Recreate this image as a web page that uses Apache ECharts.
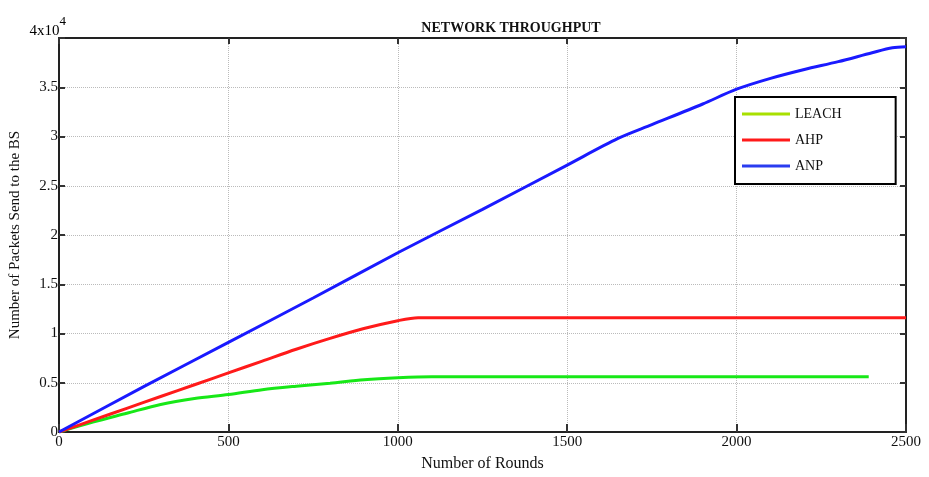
<!DOCTYPE html>
<html>
<head>
<meta charset="utf-8">
<script src="https://cdn.jsdelivr.net/npm/echarts@6/dist/echarts.min.js"></script>
<style>
  html, body { margin: 0; padding: 0; background: #fff; }
  #chart { width: 929px; height: 477px; }
</style>
</head>
<body>
<div id="chart"></div>
<script>
// values (packets, axis shows them x1e4)
const leachRounds = [0, 100, 200, 300, 400, 500, 600, 700, 800, 900, 1000, 1100, 2390]
const leachValues = [0, 1000, 1900, 2800, 3400, 3800, 4300, 4650, 4950, 5300, 5500, 5600, 5600]

const ahpRounds = [0, 100, 200, 300, 400, 500, 600, 700, 800, 900, 1000, 1060, 2500]
const ahpValues = [0, 1200, 2400, 3600, 4800, 6000, 7200, 8400, 9500, 10500, 11300, 11600, 11600]

const anpRounds = [0, 250, 500, 750, 1000, 1250, 1500, 1650, 1750, 1900, 2000, 2100, 2200, 2300, 2400, 2460, 2500]
const anpValues = [0, 4600, 9100, 13600, 18200, 22600, 27100, 29800, 31200, 33300, 34800, 35900, 36800, 37600, 38500, 39000, 39100]

const xTicks = [0, 500, 1000, 1500, 2000, 2500]
const yTickLabels = ['0', '0.5', '1', '1.5', '2', '2.5', '3', '3.5', '']

const pairs = (xs, ys) => xs.map((x, i) => [x, ys[i]])

const chart = echarts.init(document.getElementById('chart'))
const serif = '"Liberation Serif", "DejaVu Serif", serif'

const frameAxis = {
  type: 'value',
  axisLine: { show: true, onZero: false, lineStyle: { color: '#222', width: 2 } },
  axisTick: { show: true, inside: true, length: 6, lineStyle: { color: '#333', width: 2 } },
  axisLabel: { show: false },
  splitLine: { show: false },
}

chart.setOption({
  animation: false,
  title: {
    text: 'NETWORK THROUGHPUT',
    left: 506,
    top: 16,
    textAlign: 'center',
    textStyle: { fontFamily: serif, fontSize: 14, fontWeight: 'bold', color: '#111' },
  },
  grid: {
    left: 58,
    right: 23,
    top: 38,
    bottom: 38,
  },
  legend: {
    orient: 'vertical',
    left: 735,
    top: 97,
    width: 162,
    padding: [10, 54, 11, 7],
    itemWidth: 48,
    itemHeight: 3,
    itemGap: 12,
    icon: 'rect',
    backgroundColor: '#fff',
    borderColor: '#000',
    borderWidth: 2,
    borderRadius: 0,
    textStyle: { fontFamily: serif, fontSize: 14, color: '#111' },
    data: [
      { name: 'LEACH', itemStyle: { color: '#a8e000' } },
      { name: 'AHP', itemStyle: { color: '#ff1a1a' } },
      { name: 'ANP', itemStyle: { color: '#2a3cf0' } },
    ],
  },
  xAxis: [
    {
      type: 'value',
      min: 0,
      max: 2500,
      interval: 500,
      name: 'Number of Rounds',
      nameLocation: 'middle',
      nameGap: 24,
      nameTextStyle: { fontFamily: serif, fontSize: 16, color: '#111' },
      axisLine: { show: true, onZero: false, lineStyle: { color: '#222', width: 2 } },
      axisTick: { show: true, inside: true, length: 8, lineStyle: { color: '#333', width: 2 } },
      axisLabel: {
        fontFamily: serif, fontSize: 15, color: '#111', margin: 3,
        formatter: (v) => (xTicks.includes(v) ? String(v) : ''),
      },
      splitLine: { show: true, lineStyle: { color: '#bbb', type: 'dotted', width: 1 } },
    },
    Object.assign({}, frameAxis, { position: 'top', min: 0, max: 2500, interval: 500 }),
  ],
  yAxis: [
    {
      type: 'value',
      min: 0,
      max: 40000,
      interval: 5000,
      name: 'Number of Packets Send to the BS',
      nameLocation: 'middle',
      nameRotate: 90,
      nameGap: 36,
      nameTextStyle: { fontFamily: serif, fontSize: 15, color: '#111' },
      axisLine: { show: true, onZero: false, lineStyle: { color: '#222', width: 2 } },
      axisTick: { show: true, inside: true, length: 6, lineStyle: { color: '#333', width: 2 } },
      axisLabel: {
        fontFamily: serif, fontSize: 15, color: '#111', margin: 1,
        formatter: (v) => yTickLabels[Math.round(v / 5000)],
      },
      splitLine: { show: true, lineStyle: { color: '#bbb', type: 'dotted', width: 1 } },
    },
    Object.assign({}, frameAxis, { position: 'right', min: 0, max: 40000, interval: 5000 }),
  ],
  graphic: [
    {
      type: 'text',
      right: 929 - 66,
      top: 15,
      style: {
        text: '{a|4x10}{b|4}',
        rich: {
          a: { fontFamily: serif, fontSize: 15, color: '#111', padding: [9, 0, 0, 0] },
          b: { fontFamily: serif, fontSize: 13, color: '#111', verticalAlign: 'top' },
        },
      },
    },
  ],
  series: [
    {
      name: 'LEACH',
      type: 'line',
      data: pairs(leachRounds, leachValues),
      smooth: 0.3,
      symbol: 'none',
      lineStyle: { color: '#17e817', width: 3 },
      itemStyle: { color: '#a8e000' },
      z: 3,
    },
    {
      name: 'AHP',
      type: 'line',
      data: pairs(ahpRounds, ahpValues),
      smooth: 0.3,
      symbol: 'none',
      lineStyle: { color: '#ff1a1a', width: 3 },
      itemStyle: { color: '#ff1a1a' },
      z: 3,
    },
    {
      name: 'ANP',
      type: 'line',
      data: pairs(anpRounds, anpValues),
      smooth: 0.3,
      symbol: 'none',
      lineStyle: { color: '#1a1aff', width: 3 },
      itemStyle: { color: '#2a3cf0' },
      z: 3,
    },
  ],
})
</script>
</body>
</html>
